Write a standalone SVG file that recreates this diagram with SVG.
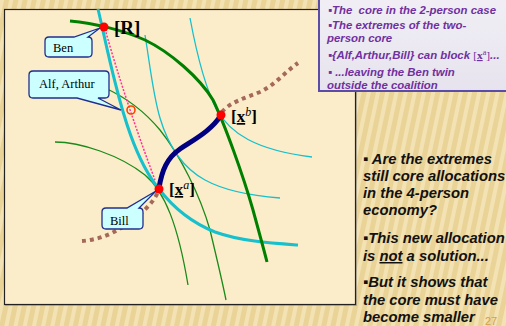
<svg xmlns="http://www.w3.org/2000/svg" width="506" height="326" viewBox="0 0 506 326">
<defs>
<pattern id="bg" width="9" height="9" patternUnits="userSpaceOnUse" patternTransform="rotate(12)">
<rect width="9" height="9" fill="#EAD397"/>
<rect width="4" height="9" fill="#F3E2B3"/>
</pattern>
<linearGradient id="boxfill" x1="0" y1="0" x2="0" y2="1">
<stop offset="0" stop-color="#F1EFF5"/>
<stop offset="1" stop-color="#E6E3EE"/>
</linearGradient>
</defs>
<style>
.thickG{fill:none;stroke:#008000;stroke-width:3}
.thinG{fill:none;stroke:#1A8A1A;stroke-width:1.3}
.thickC{fill:none;stroke:#16C0CC;stroke-width:3}
.thinC{fill:none;stroke:#16C0CC;stroke-width:1.3}
.brown{fill:none;stroke:#A5695B;stroke-width:4;stroke-dasharray:4 4}
.pink{fill:none;stroke:#FF3399;stroke-width:1.5;stroke-dasharray:2 1.5}
.navy{fill:none;stroke:#000080;stroke-width:5;stroke-linecap:round}
.dot{fill:#FF0000}
.callout{fill:#CCFFFF;stroke:#1F2F8F;stroke-width:1.3}
.lbl{font-family:"Liberation Serif",serif;font-size:12.5px;fill:#000}
.pt{font-family:"Liberation Serif",serif;font-weight:bold;fill:#000}
.box{font-family:"Liberation Sans",Arial,sans-serif;font-weight:bold;font-style:italic;font-size:11.4px;fill:#7030A0}
.side{font-family:"Liberation Sans",Arial,sans-serif;font-weight:bold;font-style:italic;font-size:14.8px;fill:#111}
</style>
<rect width="506" height="326" fill="url(#bg)"/>
<g id="panel">
<rect x="5" y="10" width="352" height="296" fill="#888" opacity="0.5"/>
<rect x="4.5" y="9.5" width="351" height="295" fill="#FCEDCA" stroke="#222" stroke-width="1.2"/>
</g>
<g id="connectors">
<path class="thinG" d="M55,142 C80,142 120,155 145,175 C165,192 178,225 188,285"/>
<path class="thinG" d="M105,88 C125,97 145,112 160,130 C180,155 200,195 210,230 C216,255 222,280 226,300"/>
<path class="thinC" d="M145,35 C150,65 153,95 160,118 C168,145 183,168 205,180 C225,191 255,196 280,198"/>
<path class="thinC" d="M190,18 C196,50 205,88 217,110 C230,133 255,150 312,157"/>
<path class="thickC" d="M98,9 C103,30 108,55 115,82 C122,110 135,160 159,189 C172,206 190,222 215,232 C240,241 270,243 298,245"/>
<path class="thickG" d="M70,21 C95,23 125,31 145,40 C170,52 200,78 213,100 C225,125 243,175 253,210 C259,232 264,250 267,262"/>
<path class="brown" d="M82,241 C95,240 110,236 125,225 C140,215 152,205 158,192"/>
<path class="brown" d="M222,112 C230,102 245,98 260,92 C275,85 285,72 298,63"/>
<path class="pink" d="M105,29 Q125,100 155,180"/>
<path class="navy" d="M159,188 C162,170 167,158 180,149 C195,139 212,130 221,115"/>
<circle cx="131" cy="110" r="4" fill="none" stroke="#FF4000" stroke-width="1.6"/>
</g>
<g id="node-R">
<circle class="dot" cx="104" cy="27" r="4.5"/>
<text class="pt" x="114" y="34" font-size="19">[R]</text>
</g>
<g id="node-xb">
<circle class="dot" cx="221" cy="115" r="4.5"/>
<text class="pt" x="231" y="122" font-size="17">[<tspan text-decoration="underline">x</tspan><tspan font-weight="normal" font-style="italic" font-size="12" dy="-6">b</tspan><tspan dy="6">]</tspan></text>
</g>
<g id="node-xa">
<circle class="dot" cx="159" cy="189" r="4.5"/>
<text class="pt" x="169" y="195" font-size="17">[<tspan text-decoration="underline">x</tspan><tspan font-weight="normal" font-style="italic" font-size="12" dy="-6">a</tspan><tspan dy="6">]</tspan></text>
</g>
<g id="callout-ben">
<path class="callout" d="M49,37 H74 L100,28 L88,37 Q92,37 92,41 V53 Q92,57 88,57 H49 Q45,57 45,53 V41 Q45,37 49,37 Z"/>
<text class="lbl" x="53" y="52" font-size="13">Ben</text>
</g>
<g id="callout-alf-arthur">
<path class="callout" d="M33,71 H105 Q109,71 109,75 V94 Q109,98 105,98 H98 L121,110 L77,98 H33 Q29,98 29,94 V75 Q29,71 33,71 Z"/>
<text class="lbl" x="39" y="88">Alf, Arthur</text>
</g>
<g id="callout-bill">
<path class="callout" d="M106,208 H127 L156,191 L139,208 Q143,208 143,212 V225 Q143,229 139,229 H106 Q102,229 102,225 V212 Q102,208 106,208 Z"/>
<text class="lbl" x="110" y="225">Bill</text>
</g>
<g id="info-box">
<rect x="319" y="-3" width="192" height="94" fill="url(#boxfill)" stroke="#5B4DA6" stroke-width="2"/>
<text class="box" xml:space="preserve" x="328" y="13.5">▪The  core in the 2-person case</text>
<text class="box" x="328" y="28.5">▪The extremes of the two-</text>
<text class="box" x="327" y="42">person core</text>
<text class="box" x="328" y="59">▪{Alf,Arthur,Bill} can block <tspan font-family="Liberation Serif,serif" font-style="normal" font-weight="normal">[<tspan font-weight="bold" text-decoration="underline">x</tspan><tspan font-size="8" dy="-4">a</tspan><tspan dy="4">]</tspan></tspan>...</text>
<text class="box" x="328" y="75.5">▪ ...leaving the Ben twin</text>
<text class="box" x="327" y="89">outside the coalition</text>
</g>
<g id="side-text">
<text class="side" x="363" y="163.5">▪ Are the extremes</text>
<text class="side" x="363" y="181">still core allocations</text>
<text class="side" x="363" y="198">in the 4-person</text>
<text class="side" x="363" y="215">economy?</text>
<text class="side" x="363" y="243">▪This new allocation</text>
<text class="side" x="363" y="261">is <tspan text-decoration="underline">not</tspan> a solution...</text>
<text class="side" x="363" y="287">▪But it shows that</text>
<text class="side" x="363" y="304.5">the core must have</text>
<text class="side" x="363" y="322">become smaller</text>
<text x="485" y="325" font-family="Liberation Sans,sans-serif" font-size="11" fill="#D7A048">27</text>
</g>
</svg>
